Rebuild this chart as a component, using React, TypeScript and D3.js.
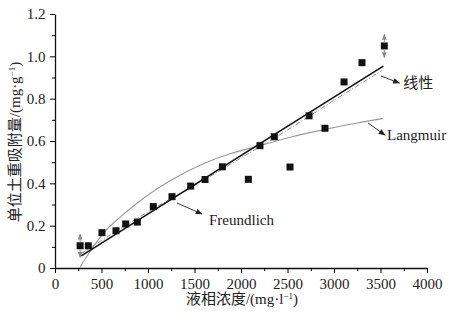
import React, { useEffect, useRef } from "react";
import * as d3 from "d3";

// measured points (liquid concentration, adsorption)
const pointX = [270, 358, 505, 656, 760, 885, 1057, 1258, 1459, 1613, 1800, 2079, 2204, 2358, 2527, 2732, 2903, 3108, 3301, 3541];
const pointY = [0.105, 0.105, 0.167, 0.176, 0.208, 0.217, 0.29, 0.337, 0.387, 0.418, 0.478, 0.419, 0.578, 0.62, 0.477, 0.719, 0.66, 0.879, 0.97, 1.049];

// error bars at first and last point
const errIdx = [0, 19];
const errSize = [0.055, 0.055];

// fitted curves
const linearX = [283, 3530];
const linearY = [0.057, 0.954];
const freundX = [283, 500, 1000, 1500, 2000, 2500, 3000, 3515];
const freundY = [0.068, 0.13, 0.265, 0.39, 0.52, 0.652, 0.792, 0.933];
const langX = [265, 350, 519, 700, 878, 1237, 1613, 1882, 2204, 2550, 2903, 3250, 3525];
const langY = [0, 0.06, 0.164, 0.24, 0.305, 0.412, 0.496, 0.54, 0.578, 0.62, 0.655, 0.685, 0.706];

// annotation labels: [x0, y0, x1, y1, labelX, labelY]
const labels = ["线性", "Langmuir", "Freundlich"];
const labelArrows = [
  [3505, 0.907, 3704, 0.874, 3745, 0.873],
  [3366, 0.685, 3548, 0.628, 3570, 0.628],
  [1312, 0.307, 1581, 0.255, 1656, 0.226],
];

const xTicks = [0, 500, 1000, 1500, 2000, 2500, 3000, 3500, 4000];
const yTicks = [0, 0.2, 0.4, 0.6, 0.8, 1.0, 1.2];

const FONT = '"Liberation Serif", "DejaVu Serif", "Times New Roman", Times, serif';
const MIXED = '"Liberation Serif", "DejaVu Serif", "Noto Sans CJK SC", serif';

export default function App() {
  const ref = useRef<SVGSVGElement>(null);

  useEffect(() => {
    const svg = d3.select(ref.current);
    svg.selectAll("*").remove();

    const x = d3.scaleLinear().domain([0, 4000]).range([55, 427]);
    const y = d3.scaleLinear().domain([0, 1.2]).range([268, 14]);

    const defs = svg.append("defs");
    defs.append("marker")
      .attr("id", "arr")
      .attr("viewBox", "0 0 10 10")
      .attr("refX", 9).attr("refY", 5)
      .attr("markerWidth", 7).attr("markerHeight", 7)
      .attr("markerUnits", "userSpaceOnUse")
      .attr("orient", "auto")
      .append("path").attr("d", "M0,1 L10,5 L0,9 Z").attr("fill", "#222");
    defs.append("marker")
      .attr("id", "earr")
      .attr("viewBox", "0 0 10 10")
      .attr("refX", 9).attr("refY", 5)
      .attr("markerWidth", 6).attr("markerHeight", 6)
      .attr("markerUnits", "userSpaceOnUse")
      .attr("orient", "auto")
      .append("path").attr("d", "M0,1 L10,5 L0,9 Z").attr("fill", "#888");

    // axes
    const xAxis = svg.append("g")
      .attr("transform", "translate(0,268)")
      .call(d3.axisBottom(x).tickValues(xTicks).tickSize(5).tickSizeOuter(0).tickFormat(d3.format("d")));
    xAxis.attr("font-family", null).attr("font-size", null);
    xAxis.select(".domain").attr("stroke", "#111").attr("stroke-width", 1.3);
    xAxis.selectAll("text").attr("fill", "#222").attr("dy", "0.85em")
      .style("font-family", FONT).style("font-size", "15px");
    svg.append("g")
      .attr("transform", "translate(0,268)")
      .call(d3.axisBottom(x).tickValues(d3.range(250, 4000, 500)).tickSize(3).tickFormat(() => ""))
      .select(".domain").remove();

    const yAxis = svg.append("g")
      .attr("transform", "translate(55,0)")
      .call(d3.axisLeft(y).tickValues(yTicks).tickSize(5).tickSizeOuter(0)
        .tickFormat((d) => (+d === 0 ? "0" : d3.format(".1f")(+d))));
    yAxis.attr("font-family", null).attr("font-size", null);
    yAxis.select(".domain").attr("stroke", "#111").attr("stroke-width", 1.3);
    yAxis.selectAll("text").attr("fill", "#222").attr("dx", "-0.1em")
      .style("font-family", FONT).style("font-size", "15px");
    svg.append("g")
      .attr("transform", "translate(55,0)")
      .call(d3.axisLeft(y).tickValues(d3.range(0.1, 1.2, 0.2)).tickSize(3).tickFormat(() => ""))
      .select(".domain").remove();

    // axis titles
    const xt = svg.append("text")
      .attr("x", 242).attr("y", 304)
      .attr("text-anchor", "middle")
      .style("font-family", MIXED)
      .style("font-size", "15px")
      .attr("fill", "#222");
    xt.append("tspan").text("液相浓度/(mg·l");
    xt.append("tspan").style("font-size", "9px").attr("dy", -5).text("−1");
    xt.append("tspan").attr("dy", 5).text(")");

    const yt = svg.append("text")
      .attr("transform", "translate(20,142) rotate(-90)")
      .attr("text-anchor", "middle")
      .style("font-family", MIXED)
      .style("font-size", "15px")
      .attr("fill", "#222");
    yt.append("tspan").text("单位土重吸附量/(mg·g");
    yt.append("tspan").style("font-size", "9px").attr("dy", -5).text("−1");
    yt.append("tspan").attr("dy", 5).text(")");

    // curves
    const line = d3.line<[number, number]>().x((d) => x(d[0])).y((d) => y(d[1]));
    const smooth = d3.line<[number, number]>().x((d) => x(d[0])).y((d) => y(d[1])).curve(d3.curveMonotoneX);

    svg.append("path")
      .attr("d", smooth(langX.map((v, i) => [v, langY[i]] as [number, number])))
      .attr("fill", "none").attr("stroke", "#9a9a9a").attr("stroke-width", 1.1);
    svg.append("path")
      .attr("d", smooth(freundX.map((v, i) => [v, freundY[i]] as [number, number])))
      .attr("fill", "none").attr("stroke", "#8a8a8a").attr("stroke-width", 1)
      .attr("stroke-dasharray", "5,2,1,2");
    svg.append("path")
      .attr("d", line(linearX.map((v, i) => [v, linearY[i]] as [number, number])))
      .attr("fill", "none").attr("stroke", "#111").attr("stroke-width", 1.6);

    // error bars
    errIdx.forEach((idx, k) => {
      const cx = x(pointX[idx]);
      const cy = y(pointY[idx]);
      [1, -1].forEach((s) => {
        svg.append("line")
          .attr("x1", cx).attr("x2", cx)
          .attr("y1", cy - s * 4)
          .attr("y2", y(pointY[idx] + s * errSize[k]))
          .attr("stroke", "#888").attr("stroke-width", 1)
          .attr("marker-end", "url(#earr)");
      });
    });

    // points
    svg.append("g")
      .selectAll("rect")
      .data(pointX.map((v, i) => [v, pointY[i]]))
      .join("rect")
      .attr("x", (d) => x(d[0]) - 3.5)
      .attr("y", (d) => y(d[1]) - 3.5)
      .attr("width", 7).attr("height", 7)
      .attr("fill", "#111");

    // annotations
    labelArrows.forEach((a, i) => {
      svg.append("line")
        .attr("x1", x(a[0])).attr("y1", y(a[1]))
        .attr("x2", x(a[2])).attr("y2", y(a[3]))
        .attr("stroke", "#222").attr("stroke-width", 0.9)
        .attr("marker-end", "url(#arr)");
      svg.append("text")
        .attr("x", x(a[4])).attr("y", y(a[5]))
        .attr("dy", "0.35em")
        .style("font-family", MIXED)
        .style("font-size", "15px")
        .attr("fill", "#222")
        .text(labels[i]);
    });
  }, []);

  return (
    <svg
      ref={ref}
      width={456}
      height={316}
      viewBox="0 0 456 316"
      style={{ position: "absolute", left: 0, top: 0, background: "#fff" }}
    />
  );
}
